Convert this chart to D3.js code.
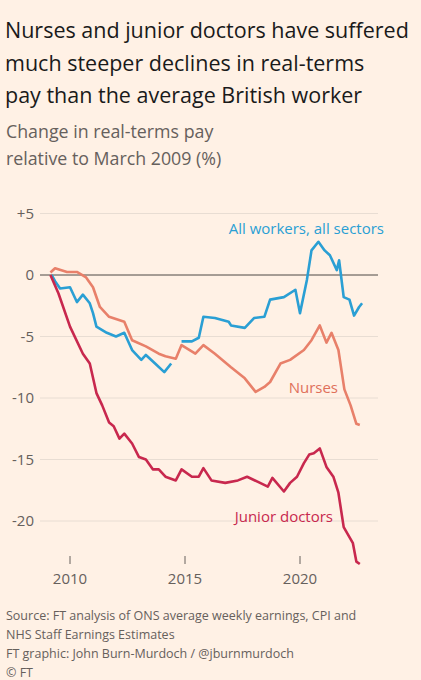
<!DOCTYPE html><html><head><meta charset="utf-8">
<script src="https://cdn.jsdelivr.net/npm/d3@7"></script>
<style>body{margin:0;background:#fff1e5;font-family:"Open Sans",sans-serif}</style></head><body>
<svg id="c" width="421" height="680"></svg>
<script>
const allWorkers=[[2009.2,0],[2009.35,-0.5],[2009.57,-1.1],[2010,-1],[2010.3,-2.2],[2010.56,-1.6],[2010.86,-2.3],[2011,-3.1],[2011.15,-4.2],[2011.6,-4.7],[2012,-5],[2012.36,-4.7],[2012.7,-6.1],[2013.1,-6.9],[2013.3,-6.5],[2013.7,-7.2],[2014.1,-7.9],[2014.4,-7.2],[2014.6,null],[2014.85,-5.4],[2015.3,-5.4],[2015.6,-5.1],[2015.8,-3.4],[2016.3,-3.5],[2016.9,-3.8],[2017,-4.1],[2017.6,-4.3],[2018,-3.5],[2018.45,-3.4],[2018.7,-2],[2019.3,-1.8],[2019.8,-1.2],[2020,-3.1],[2020.3,-0.4],[2020.5,2],[2020.8,2.7],[2021.07,2],[2021.3,1.6],[2021.6,0.4],[2021.7,1.2],[2021.9,-1.8],[2022.15,-2],[2022.35,-3.3],[2022.57,-2.6],[2022.7,-2.3]];
const nurses=[[2009.15,0.2],[2009.35,0.55],[2009.87,0.25],[2010.3,0.25],[2010.7,-0.2],[2011,-1],[2011.3,-2.6],[2011.7,-3.4],[2012.36,-3.8],[2012.7,-5.3],[2013.3,-5.8],[2013.86,-6.4],[2014.15,-6.6],[2014.6,-6.8],[2014.85,-5.7],[2015.45,-6.4],[2015.8,-5.7],[2016.3,-6.4],[2017,-7.5],[2017.6,-8.4],[2018.07,-9.5],[2018.45,-9.1],[2018.7,-8.7],[2019.15,-7.2],[2019.57,-6.9],[2020.17,-6.1],[2020.5,-5.3],[2020.86,-4.1],[2021.15,-5.5],[2021.37,-4.7],[2021.67,-6.1],[2021.93,-9.3],[2022.2,-10.6],[2022.45,-12.1],[2022.6,-12.2]];
const juniorDoctors=[[2009.15,0],[2009.5,-1.5],[2010,-4.2],[2010.56,-6.4],[2010.86,-7.2],[2011.15,-9.6],[2011.4,-10.6],[2011.7,-12],[2011.9,-12.3],[2012.15,-13.3],[2012.36,-12.9],[2012.7,-13.7],[2013,-14.8],[2013.3,-15],[2013.6,-15.8],[2013.86,-15.8],[2014.15,-16.4],[2014.6,-16.7],[2014.85,-15.8],[2015.3,-16.4],[2015.6,-16.4],[2015.8,-15.7],[2016.15,-16.7],[2016.75,-16.9],[2017.3,-16.7],[2017.7,-16.4],[2018.15,-16.8],[2018.6,-17.2],[2018.8,-16.5],[2019.3,-17.6],[2019.57,-16.9],[2019.87,-16.4],[2020.17,-15.3],[2020.4,-14.6],[2020.6,-14.5],[2020.86,-14.1],[2021.15,-15.6],[2021.45,-16.4],[2021.67,-17.7],[2021.9,-20.5],[2022.3,-21.8],[2022.45,-23.3],[2022.6,-23.5]];
const yTicks=[5,0,-5,-10,-15,-20];
const xTicks=[2010,2015,2020];
const svg=d3.select("#c");
const x=d3.scaleLinear().domain([2010,2020]).range([70,300]);
const y=d3.scaleLinear().domain([0,-20]).range([275,521]);
const t=(s,xx,yy,o={})=>svg.append("text").attr("x",xx).attr("y",yy).text(s).attr("font-size",o.fs||20).attr("fill",o.c||"#1a1a1a").attr("text-anchor",o.a||"start").attr("font-weight",o.w||500);
["Nurses and junior doctors have suffered","much steeper declines in real-terms","pay than the average British worker"].forEach((s,i)=>t(s,5,38+i*32.5,{fs:21.5}));
["Change in real-terms pay","relative to March 2009 (%)"].forEach((s,i)=>t(s,6,138+i*27,{fs:17.8,c:"#66605c",w:400}));
yTicks.forEach(v=>{
 svg.append("line").attr("x1",40).attr("x2",378).attr("y1",y(v)).attr("y2",y(v)).attr("stroke",v===0?"#4d4845":"#e8ddd3").attr("stroke-width",1);
 t(v>0?"+"+v:String(v),34,y(v)+5,{fs:15,c:"#66605c",a:"end",w:400});
});
xTicks.forEach(v=>{
 svg.append("line").attr("x1",x(v)).attr("x2",x(v)).attr("y1",556).attr("y2",564).attr("stroke","#66605c");
 t(v,x(v),584,{fs:15,c:"#66605c",a:"middle",w:400});
});
const line=d3.line().defined(d=>d[1]!==null).x(d=>x(d[0])).y(d=>y(d[1]));
[[allWorkers,"#2a9fd4"],[nurses,"#e8806a"],[juniorDoctors,"#c8284e"]].forEach(([d,c])=>
 svg.append("path").datum(d).attr("d",line).attr("fill","none").attr("stroke",c).attr("stroke-width",2.6).attr("stroke-linejoin","round"));
t("All workers, all sectors",384,234,{fs:15,c:"#2a9fd4",a:"end",w:400});
t("Nurses",338,393,{fs:15,c:"#e0705a",a:"end",w:400});
t("Junior doctors",333,522,{fs:15,c:"#c8284e",a:"end",w:400});
["Source: FT analysis of ONS average weekly earnings, CPI and","NHS Staff Earnings Estimates","FT graphic: John Burn-Murdoch / @jburnmurdoch","© FT"].forEach((s,i)=>t(s,6,620+i*19,{fs:12.5,c:"#66605c",w:400}));
</script></body></html>
